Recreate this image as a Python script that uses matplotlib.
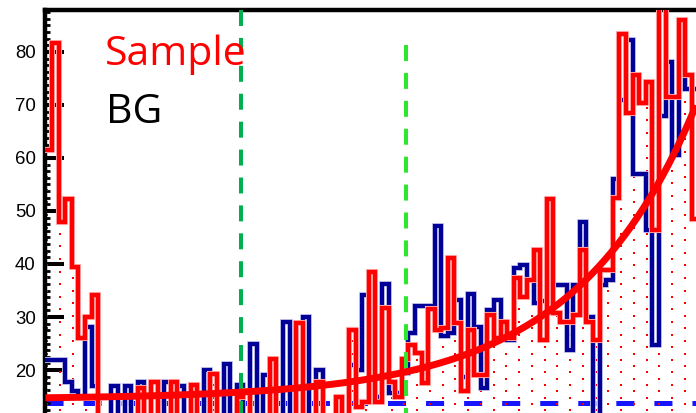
import numpy as np
import matplotlib
matplotlib.use("Agg")
import matplotlib.pyplot as plt
import matplotlib.patheffects as pe

plt.rcParams["lines.scale_dashes"] = False

# Bin contents (unit-width bins starting at x = 0)
sample = [61.5, 81.6, 48.0, 52.3, 39.5, 26.0, 30.0, 34.2, 11.0, 11.0,
          11.0, 11.0, 11.0, 11.0, 16.6, 11.0, 17.8, 11.0, 11.0, 17.8,
          11.0, 11.0, 17.2, 11.0, 11.0, 19.2, 11.0, 11.0, 11.0, 15.0,
          16.0, 11.0, 11.0, 11.0, 22.0, 11.0, 11.0, 11.0, 28.9, 11.0,
          11.0, 17.8, 11.0, 11.0, 15.0, 11.0, 27.5, 13.0, 14.0, 38.5,
          14.0, 31.7, 17.8, 15.0, 22.0, 24.7, 23.2, 17.5, 31.6, 27.5,
          28.0, 41.2, 28.9, 16.0, 27.5, 19.0, 19.0, 30.4, 26.0, 29.0,
          26.0, 37.3, 33.8, 37.0, 42.6, 25.6, 52.2, 30.7, 29.0, 29.0,
          30.4, 42.6, 29.0, 25.6, 38.8, 38.8, 52.4, 83.3, 68.4, 75.6,
          70.3, 74.3, 46.4, 95.0, 71.5, 71.5, 86.1, 75.6, 48.4]

background = [21.9, 21.9, 21.9, 17.8, 16.0, 15.0, 28.2, 16.9, 11.0, 11.0,
              16.9, 11.0, 16.9, 11.0, 17.8, 11.0, 17.8, 11.0, 17.8, 11.0,
              16.9, 11.0, 11.0, 11.0, 20.0, 11.0, 11.0, 21.1, 11.0, 17.2,
              11.0, 25.0, 11.0, 19.1, 11.0, 11.0, 29.1, 11.0, 11.0, 30.0,
              11.0, 20.0, 11.0, 11.0, 11.0, 11.0, 21.0, 20.0, 34.1, 21.0,
              15.0, 36.2, 15.6, 15.6, 19.5, 27.0, 32.0, 32.0, 32.0, 47.1,
              26.5, 27.0, 33.2, 18.7, 34.3, 28.2, 16.6, 31.3, 33.2, 29.0,
              25.6, 39.2, 39.8, 37.0, 32.6, 33.0, 46.4, 36.0, 36.0, 23.8,
              36.0, 48.0, 30.0, 11.0, 36.0, 37.0, 56.1, 71.0, 82.2, 57.0,
              57.0, 46.4, 24.7, 68.0, 78.1, 60.5, 84.4, 73.0, 73.0]

# Fit of the sample: offset + amplitude * exp(slope * x)
fit_offset, fit_amp, fit_slope = 14.5, 0.27, 0.054
bg_level = 13.8
cut_low, cut_high = 29.6, 54.6
cut_high_top = 81.3

y_ticks = [20, 30, 40, 50, 60, 70, 80]
x_range = (0.0, 98.6)
y_range = (11.9, 87.9)

W, H = 696, 413
fig = plt.figure(figsize=(W / 100, H / 100), dpi=100)
ax = fig.add_axes([45.4 / W, 0.0, 1 - 45.4 / W, (H - 10) / H])
ax.set_xlim(*x_range)
ax.set_ylim(*y_range)

edges = np.arange(len(sample) + 1)
sample_arr = np.array(sample)

# frame: only left and top visible
for s in ("right", "bottom"):
    ax.spines[s].set_visible(False)
for s in ("left", "top"):
    ax.spines[s].set_linewidth(3.2)
    ax.spines[s].set_color("black")

ax.set_yticks(y_ticks)
ax.set_yticks(np.arange(12.5, 88, 1.25), minor=True)
ax.tick_params(axis="y", which="major", direction="in", length=14, width=2.9,
               pad=7, labelsize=13.4)
ax.tick_params(axis="y", which="minor", direction="in", length=3.6, width=2.0)
ax.tick_params(axis="x", which="both", bottom=False, top=False,
               labelbottom=False)
for lab in ax.get_yticklabels():
    lab.set_fontfamily("Liberation Sans")

# background level
ax.axhline(bg_level, color="#1414ff", lw=3.6, dashes=(13, 14.4), zorder=1)

# dotted fill under the sample histogram (staggered dot lattice)
inv = ax.transData.inverted()
px_cols = np.arange(47.3, W + 1, 12.75)
pts = []
for n, xp in enumerate(px_cols):
    y0 = 404.0 if n % 2 == 0 else 410.3
    yps = np.arange(y0, 8, -12.6)
    for yp in yps:
        pts.append((xp, H - yp))
pts = np.array(pts)
data_pts = inv.transform(pts)
bins = np.floor(data_pts[:, 0]).astype(int)
ok = (bins >= 0) & (bins < len(sample))
keep = ok.copy()
keep[ok] = data_pts[ok, 1] < sample_arr[bins[ok]]
ax.plot(data_pts[keep, 0], data_pts[keep, 1], ls="none", marker="s",
        ms=2.0, mew=0, color="red", zorder=2)

# histograms
bg_step = ax.stairs(background, edges, color="#000099", lw=3.0, zorder=3,
                    baseline=None)
bg_step.set_joinstyle("miter")
bg_step.set_path_effects([pe.Stroke(linewidth=4.2, foreground="#c4c4ec"),
                          pe.Normal()])
sm_step = ax.stairs(sample, edges, color="#ff0000", lw=3.2, zorder=4,
                    baseline=None)
sm_step.set_joinstyle("miter")
sm_step.set_path_effects([pe.Stroke(linewidth=4.4, foreground="#ffc4c4"),
                          pe.Normal()])

# cut lines
ax.plot([cut_low, cut_low], [y_range[1], y_range[0]], color="#00b050",
        lw=2.9, dashes=(11.5, 8.6), zorder=5, solid_capstyle="butt")
ax.plot([cut_high, cut_high], [cut_high_top, y_range[0]], color="#2ee62e",
        lw=2.9, dashes=(11.5, 8.6), zorder=5)

# fitted curve
xf = np.linspace(x_range[0], x_range[1], 400)
ax.plot(xf, fit_offset + fit_amp * np.exp(fit_slope * xf), color="#ff0000",
        lw=5.0, zorder=6, solid_capstyle="butt")

# legend text
fig.text(105 / W, 1 - 65 / H, "Sample", color="#ff0000", fontsize=29.5,
         family="Open Sans", ha="left", va="baseline")
fig.text(106 / W, 1 - 123 / H, "BG", color="black", fontsize=29.5,
         family="Open Sans", ha="left", va="baseline")

fig.savefig("out.png", dpi=100)
